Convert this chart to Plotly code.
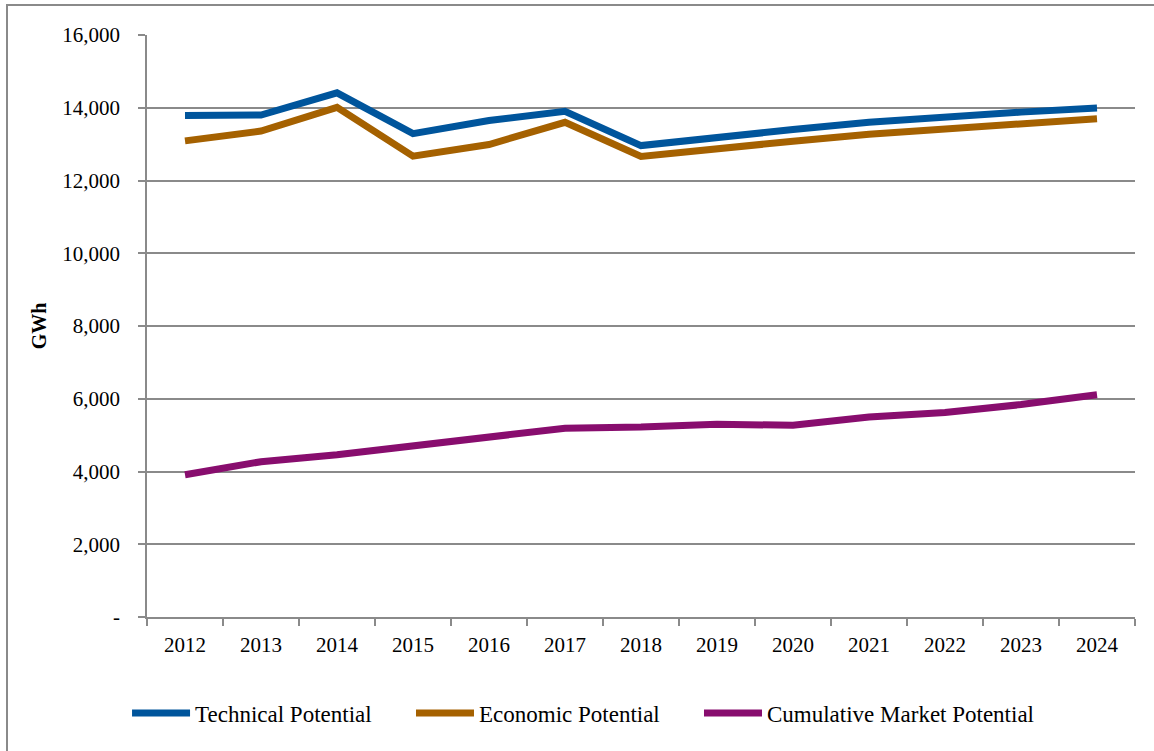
import plotly.graph_objects as go

years = ["2012", "2013", "2014", "2015", "2016", "2017", "2018",
         "2019", "2020", "2021", "2022", "2023", "2024"]
technical = [13790, 13800, 14410, 13290, 13650, 13900, 12960,
             13200, 13400, 13600, 13760, 13880, 13990]
economic = [13090, 13360, 14010, 12670, 12990, 13600, 12660,
            12880, 13080, 13270, 13420, 13560, 13700]
market = [3910, 4270, 4460, 4710, 4960, 5190, 5220,
          5300, 5270, 5500, 5620, 5840, 6110]

y_tickvals = [0, 2000, 4000, 6000, 8000, 10000, 12000, 14000, 16000]
y_ticktext = ["-", "2,000", "4,000", "6,000", "8,000", "10,000",
              "12,000", "14,000", "16,000"]

series = [
    ("Technical Potential", technical, "#00559C", "legend"),
    ("Economic Potential", economic, "#A56100", "legend2"),
    ("Cumulative Market Potential", market, "#880D6E", "legend3"),
]
legend_x = [-0.0202, 0.2672, 0.5587]

FONT = "'Liberation Serif', 'Times New Roman', serif"
GRID = "#8a8a8a"

fig = go.Figure()
for name, vals, color, lg in series:
    fig.add_trace(go.Scatter(
        x=years, y=vals, name=name, mode="lines",
        line=dict(color=color, width=7), legend=lg,
    ))

def legend_style(x):
    return dict(
        orientation="h", x=x, y=-0.128, xanchor="left", yanchor="top",
        font=dict(family=FONT, size=23, color="black"),
        itemwidth=58, bgcolor="rgba(0,0,0,0)",
    )

fig.update_layout(
    width=1154, height=751,
    margin=dict(l=147, r=19, t=35, b=134),
    paper_bgcolor="white", plot_bgcolor="white",
    font=dict(family=FONT, size=21, color="black"),
    showlegend=True,
    legend=legend_style(legend_x[0]),
    legend2=legend_style(legend_x[1]),
    legend3=legend_style(legend_x[2]),
    xaxis=dict(
        type="category", range=[-0.5, 12.5],
        tickson="boundaries", ticks="outside", ticklen=7,
        tickcolor=GRID, tickwidth=1.5,
        showline=True, linecolor=GRID, linewidth=1.5,
        showgrid=False, ticklabelstandoff=8,
        tickfont=dict(family=FONT, size=21),
    ),
    yaxis=dict(
        range=[0, 16000], tickvals=y_tickvals, ticktext=y_ticktext,
        ticks="outside", ticklen=7, tickcolor=GRID, tickwidth=1.5,
        showline=True, linecolor=GRID, linewidth=1.5,
        showgrid=True, gridcolor=GRID, gridwidth=1.5,
        zeroline=False, ticklabelstandoff=14,
        tickfont=dict(family=FONT, size=21),
        title=dict(text="<b>GWh</b>", font=dict(family=FONT, size=20),
                   standoff=10),
    ),
    shapes=[dict(
        type="rect", xref="paper", yref="paper",
        x0=-0.1417, x1=1.05, y0=-0.3, y1=1.0515,
        line=dict(color="#8a8a8a", width=2), fillcolor="rgba(0,0,0,0)",
        layer="below",
    )],
)

fig.write_html("out.html",
               config={"displayModeBar": False},
               post_script="document.body.style.margin='0';")
